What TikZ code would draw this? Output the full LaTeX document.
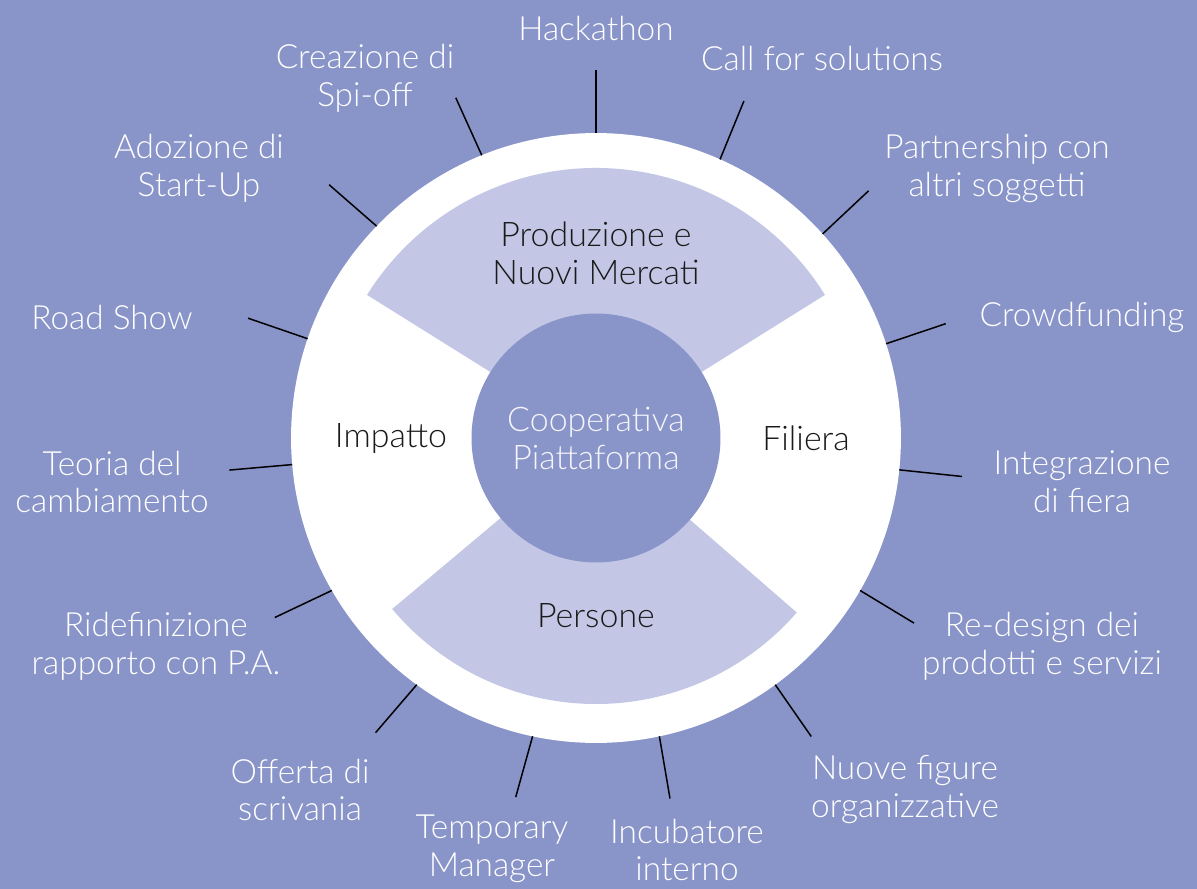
\documentclass[tikz,border=0pt]{standalone}
\usepackage{fontspec}
\IfFontExistsTF{Lato Light}{\setmainfont{Lato Light}}{\setmainfont{Lato}}
\usetikzlibrary{calc}
\definecolor{cbg}{HTML}{8994C9}
\definecolor{csector}{HTML}{C3C7E5}
\definecolor{cink}{HTML}{1A1A1A}
\definecolor{chub}{HTML}{F4F4FB}
\tikzset{
  every picture/.style={line width=0.85pt},
  outer/.style={text=white, align=center, font=\fontsize{19}{21.6}\selectfont},
  inner/.style={text=cink, align=center, font=\fontsize{19.3}{21.6}\selectfont},
  tick/.style={draw=black, line width=0.85pt},
  sector/.style={fill=csector},
}

\begin{document}
\begin{tikzpicture}[x=0.02cm, y=0.02cm]
  % canvas
  \fill[cbg] (-596,438) rectangle (601,-451);
  \useasboundingbox (-596,438) rectangle (601,-451);
  % white ring, two light sectors, hub on top
  \node[circle, fill=white, minimum size=12.2cm, inner sep=0pt, outer sep=0pt] (ring) at (0,0) {};
  \fill[sector] (0,0) -- (32:270) arc[start angle=32, end angle=148, radius=270] -- cycle;
  \fill[sector] (0,0) -- (-140:266) arc[start angle=-140, end angle=-41, radius=266] -- cycle;
  \node[circle, fill=cbg, minimum size=4.98cm, inner sep=0pt, align=center, text=chub,
        font=\fontsize{19.3}{21.6}\selectfont] (hub) at (0,0) {Cooperativa\\Piattaforma};
  \node[inner] (prod) at (0,185) {Produzione e\\Nuovi Mercati};
  \node[inner] (imp) at (-205,0) {Impatto};
  \node[inner] (fil) at (210,0) {Filiera};
  \node[inner] (pers) at (0,-178) {Persone};
  % ticks and labels around the ring
  \foreach \i/\a/\x/\y/\t in {
      1/90/0/410/{Hackathon},
      2/66.3/226/380/{Call for solutions},
      3/42.2/401/270/{Partnership con\\altri soggetti},
      4/18.1/486/121/{Crowdfunding},
      5/-6/486/-44/{Integrazione\\di fiera},
      6/-30.2/446/-208/{Re-design dei\\prodotti e servizi},
      7/-54.2/309/-352/{Nuove figure\\organizzative},
      8/-78.4/91/-412/{Incubatore\\interno},
      9/-102.6/-104/-411/{Temporary\\Manager},
      10/-126.8/-296/-352/{Offerta di\\scrivania},
      11/-150.8/-440/-208/{Ridefinizione\\rapporto con P.A.},
      12/-175/-484/-44/{Teoria del\\cambiamento},
      13/161/-484/121/{Road Show},
      14/136.5/-397/270/{Adozione di\\Start-Up},
      15/112.4/-231/360/{Creazione di\\Spi-off}}
  {
    \coordinate (t\i) at (\a:368);
    \draw[tick] (ring.\a) -- (t\i);
    \node[outer] (l\i) at (\x,\y) {\t};
  }
\end{tikzpicture}
\end{document}
